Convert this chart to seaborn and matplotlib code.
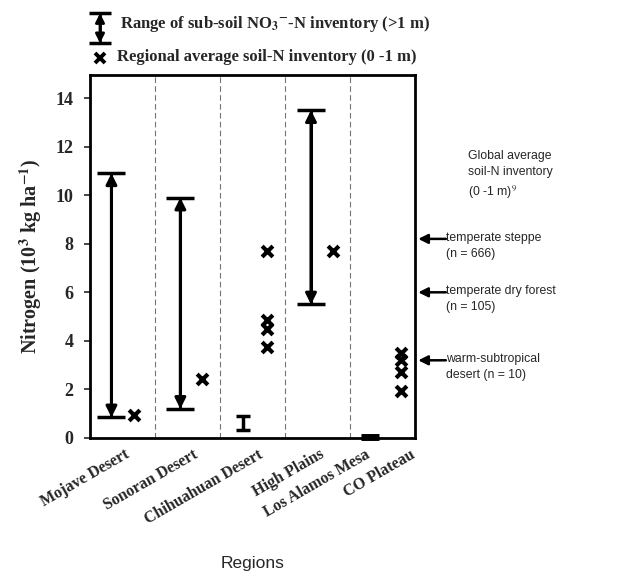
import matplotlib
matplotlib.use("Agg")
import matplotlib.pyplot as plt
import matplotlib.transforms as mtransforms
import seaborn as sns
import pandas as pd

# regions along the x axis
regions = ["Mojave Desert", "Sonoran Desert", "Chihuahuan Desert",
           "High Plains", "Los Alamos Mesa", "CO Plateau"]

# range of sub-soil NO3-N inventory (>1 m), 10^3 kg/ha
range_regions = ["Mojave Desert", "Sonoran Desert", "High Plains"]
range_low = [0.85, 1.2, 5.5]
range_high = [10.9, 9.9, 13.5]

# small ranges drawn without arrows
small_regions = ["Chihuahuan Desert"]
small_low = [0.35]
small_high = [0.9]
mesa_regions = ["Los Alamos Mesa"]
mesa_values = [0.05]

# regional average soil-N inventory (0-1 m)
avg_regions = ["Mojave Desert", "Sonoran Desert",
               "Chihuahuan Desert", "Chihuahuan Desert", "Chihuahuan Desert", "Chihuahuan Desert",
               "High Plains",
               "CO Plateau", "CO Plateau", "CO Plateau", "CO Plateau"]
avg_values = [0.95, 2.45, 7.7, 4.85, 4.5, 3.75, 7.7, 3.5, 3.2, 2.7, 1.95]

# global average soil-N inventory (0-1 m)
global_labels = ["temperate steppe\n(n = 666)", "temperate dry forest\n(n = 105)",
                 "warm-subtropical\ndesert (n = 10)"]
global_values = [8.2, 6.0, 3.2]

# layout: x centre of each region group and where its label ends
region_x = {"Mojave Desert": 0.5, "Sonoran Desert": 1.56, "Chihuahuan Desert": 2.55,
            "High Plains": 3.57, "Los Alamos Mesa": 4.3, "CO Plateau": 4.61}
label_x = [0.52, 1.58, 2.58, 3.52, 4.22, 4.92]
off = 0.17

sns.set_style("white")
plt.rcParams["mathtext.fontset"] = "stix"
serif = ["Liberation Serif", "DejaVu Serif"]
sans = ["Liberation Sans", "DejaVu Sans"]

fig = plt.figure(figsize=(6.21, 5.88), dpi=100)
ax = fig.add_axes([90 / 621, 1 - 438 / 588, 325 / 621, 363 / 588])

# dashed separators between regions
for s in [1, 2, 3, 4]:
    ax.axvline(s, color="0.45", lw=0.8, ls=(0, (5, 3)), zorder=0)

# ranges with arrows
rx = [region_x[r] - off for r in range_regions]
mid = [(a + b) / 2 for a, b in zip(range_low, range_high)]
ax.errorbar(rx, mid, yerr=[[m - a for m, a in zip(mid, range_low)],
                           [b - m for m, b in zip(mid, range_high)]],
            fmt="none", ecolor="black", elinewidth=2.2, capsize=10, capthick=2.5)
for x, a, b in zip(rx, range_low, range_high):
    ax.annotate("", xy=(x, b), xytext=(x, a),
                arrowprops=dict(arrowstyle="<|-|>", color="black", lw=2.2,
                                mutation_scale=16, shrinkA=0, shrinkB=0))

sx = [region_x[r] - 0.2 for r in small_regions]
smid = [(a + b) / 2 for a, b in zip(small_low, small_high)]
ax.errorbar(sx, smid, yerr=[[m - a for m, a in zip(smid, small_low)],
                            [b - m for m, b in zip(smid, small_high)]],
            fmt="none", ecolor="black", elinewidth=2.5, capsize=5, capthick=2.5)
ax.plot([region_x[r] for r in mesa_regions], mesa_values, ls="none", marker="_",
        ms=13, mew=5, color="black", clip_on=False)

# regional averages
avg_df = pd.DataFrame({"x": [region_x[r] + off for r in avg_regions],
                       "N": avg_values})
sns.scatterplot(data=avg_df, x="x", y="N", marker="x", s=60, linewidth=3,
                color="black", ax=ax, zorder=3)

ax.set_xlim(0, 5)
ax.set_ylim(0, 14.95)
ax.set_yticks(range(0, 15, 2))
ax.set_xticks([1, 2, 3, 4], minor=True)
ax.set_xticks(label_x)
ax.set_xticklabels(regions, rotation=30, ha="right", rotation_mode="anchor",
                   family=serif, fontweight="bold", fontsize=11.5)
ax.tick_params(axis="x", which="major", length=0, pad=6)
ax.tick_params(axis="x", which="minor", length=5, width=1.2, direction="inout")
ax.tick_params(axis="y", length=4, width=1.2, direction="out", pad=8, left=True)
for lab in ax.get_yticklabels():
    lab.set_family(serif)
    lab.set_fontweight("bold")
    lab.set_fontsize(13)
for sp in ax.spines.values():
    sp.set_linewidth(2)
    sp.set_color("black")

ax.set_xlabel("Regions", family=sans, fontsize=12.5)
ax.xaxis.set_label_coords(0.5, -0.325)
ax.set_ylabel(r"Nitrogen (10$^{\mathbf{3}}$ kg ha$^{\mathbf{-1}}$)", family=serif,
              fontweight="bold", fontsize=14.5, labelpad=8)

# global averages on the right
blend = mtransforms.blended_transform_factory(ax.transAxes, ax.transData)
for lab, v in zip(global_labels, global_values):
    ax.annotate("", xy=(1.01, v), xytext=(1.095, v), xycoords=blend,
                arrowprops=dict(arrowstyle="-|>", color="black", lw=1.8,
                                mutation_scale=14, shrinkA=0, shrinkB=0))
    ax.annotate(lab, xy=(1.095, v), xycoords=blend, xytext=(0, 5),
                textcoords="offset points", ha="left", va="top",
                family=sans, fontsize=8.8, linespacing=1.45)
fig.text(468 / 621, 1 - 150 / 588, "Global average\nsoil-N inventory\n(0 -1 m)$^9$",
         ha="left", va="top", family=sans, fontsize=8.8, linespacing=1.45)

# legend key at the top
lax = fig.add_axes([88 / 621, 1 - 66 / 588, 24 / 621, 60 / 588])
lax.set_xlim(0, 1)
lax.set_ylim(0, 1)
lax.axis("off")
lax.errorbar([0.5], [0.63], yerr=[[0.25], [0.25]], fmt="none", ecolor="black",
             elinewidth=2, capsize=8, capthick=2.5)
lax.annotate("", xy=(0.5, 0.88), xytext=(0.5, 0.38),
             arrowprops=dict(arrowstyle="<|-|>", color="black", lw=2,
                             mutation_scale=13, shrinkA=0, shrinkB=0))
lax.plot([0.5], [0.13], ls="none", marker="x", ms=7, mew=2.8, color="black")
fig.text(120 / 621, 1 - 24 / 588, r"Range of sub-soil NO$_{\mathbf{3}}$$^{\mathbf{-}}$-N inventory (>1 m)",
         ha="left", va="center", family=serif, fontweight="bold", fontsize=12)
fig.text(117 / 621, 1 - 57 / 588, "Regional average soil-N inventory (0 -1 m)",
         ha="left", va="center", family=serif, fontweight="bold", fontsize=12)

fig.savefig("out.png", dpi=100)
